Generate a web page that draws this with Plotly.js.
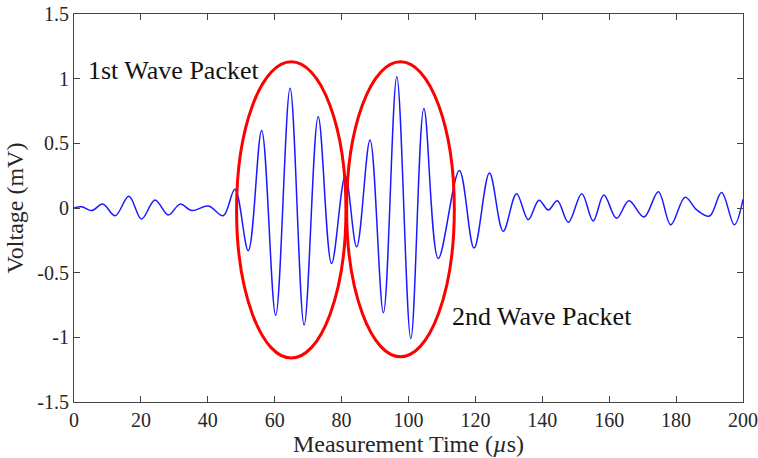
<!DOCTYPE html>
<html>
<head>
<meta charset="utf-8">
<script src="https://cdn.plot.ly/plotly-3.0.1.min.js"></script>
<style>html,body{margin:0;padding:0;background:#fff;}#chart{width:758px;height:458px;}</style>
</head>
<body>
<div id="chart"></div>
<script>
const timeUs = [0, 2.3, 5.3, 8.6, 12.3, 16.4, 20.2, 24.2, 28.2, 31.7, 35.2, 40.2, 44.6, 48.1,
  52.1, 56.1, 60.3, 64.6, 68.8, 73.0, 77.0, 81.1, 84.5, 88.5, 92.5, 96.5, 100.7, 104.6, 108.9,
  115.2, 119.6, 124.2, 128.3, 132.3, 135.8, 139.0, 141.8, 144.5, 147.8, 151.8, 155.2, 158.4,
  162.2, 165.9, 170.4, 174.7, 178.4, 182.7, 186.2, 190.0, 193.6, 197.4, 200];
const voltageMv = [0, 0.01, -0.02, 0.03, -0.06, 0.09, -0.085, 0.062, -0.054, 0.03, -0.02, 0.015, -0.06, 0.145,
  -0.33, 0.60, -0.83, 0.926, -0.905, 0.706, -0.43, 0.25, -0.30, 0.526, -0.81, 1.015, -1.01, 0.77, -0.39,
  0.29, -0.31, 0.27, -0.18, 0.11, -0.09, 0.06, -0.015, 0.056, -0.11, 0.11, -0.10, 0.10,
  -0.08, 0.056, -0.07, 0.126, -0.13, 0.083, -0.015, -0.062, 0.12, -0.13, 0.067];

// Ellipses marking the two wave packets: [xmin, xmax, ymin, ymax]
const packet1 = [48.6, 81.3, -1.16, 1.13];
const packet2 = [81.5, 113.7, -1.15, 1.13];
const packetLabels = ["1st Wave Packet", "2nd Wave Packet"];
const labelX = [29.6, 139.9];
const labelY = [1.06, -0.84];

const yTicks = [-1.5, -1, -0.5, 0, 0.5, 1, 1.5];
const yTickText = ["-1.5", "-1", "-0.5", "0", "0.5", "1", "1.5"];
const xTicks = [0, 20, 40, 60, 80, 100, 120, 140, 160, 180, 200];

const serif = "Liberation Serif, Times New Roman, serif";
const axisColor = "#444";
const textColor = "#262626";

const trace = {
  x: timeUs, y: voltageMv, type: "scatter", mode: "lines",
  line: {color: "#1a1aff", width: 1.5, shape: "spline", smoothing: 1},
  hoverinfo: "skip"
};

function ellipse(p) {
  return {type: "circle", xref: "x", yref: "y", x0: p[0], x1: p[1], y0: p[2], y1: p[3],
    line: {color: "#ff0000", width: 3}, fillcolor: "rgba(0,0,0,0)"};
}

const layout = {
  width: 758, height: 458,
  margin: {l: 74, r: 15, t: 14, b: 56},
  paper_bgcolor: "#fff", plot_bgcolor: "#fff",
  showlegend: false,
  font: {family: serif, color: textColor, size: 20},
  xaxis: {
    range: [0, 200], tickmode: "array", tickvals: xTicks,
    ticks: "inside", ticklen: 6, tickcolor: axisColor, tickwidth: 1,
    showline: true, linecolor: axisColor, linewidth: 1, mirror: "ticks",
    showgrid: false, zeroline: false,
    tickfont: {family: serif, size: 20, color: textColor},
    title: {text: "Measurement Time (<i>µ</i>s)", font: {family: serif, size: 24, color: textColor}, standoff: 2},
    automargin: false
  },
  yaxis: {
    range: [-1.5, 1.5], tickmode: "array", tickvals: yTicks, ticktext: yTickText,
    ticks: "inside", ticklen: 6, tickcolor: axisColor, tickwidth: 1,
    showline: true, linecolor: axisColor, linewidth: 1, mirror: "ticks",
    showgrid: false, zeroline: false,
    tickfont: {family: serif, size: 20, color: textColor},
    title: {text: "Voltage (mV)", font: {family: serif, size: 24, color: textColor}, standoff: 6},
    automargin: false
  },
  shapes: [ellipse(packet1), ellipse(packet2)],
  annotations: packetLabels.map((t, i) => ({
    text: t, x: labelX[i], y: labelY[i], xref: "x", yref: "y", showarrow: false,
    font: {family: serif, size: 26, color: "#111"}
  }))
};

Plotly.newPlot("chart", [trace], layout, {displayModeBar: false, staticPlot: true});
</script>
</body>
</html>
